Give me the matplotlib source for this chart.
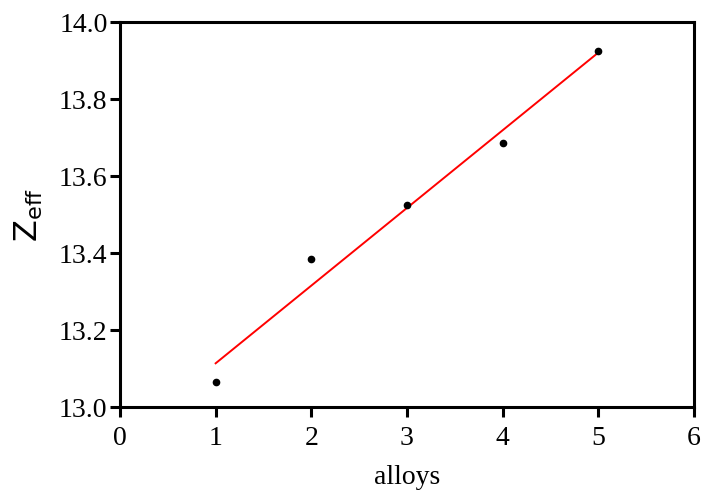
import matplotlib
matplotlib.use('Agg')
import matplotlib.pyplot as plt
import numpy as np

# effective atomic number per alloy
alloys = [1, 2, 3, 4, 5]
z_eff = [13.066, 13.385, 13.525, 13.685, 13.925]

plt.rcParams['font.family'] = 'Liberation Serif'

fig = plt.figure(figsize=(7.03, 4.93), dpi=100)
ax = fig.add_axes([0.1707, 0.1744, 0.8163, 0.7806])

# least squares line through the points
slope, intercept = np.polyfit(alloys, z_eff, 1)
fit_x = np.array([alloys[0], alloys[-1]])
ax.plot(fit_x, slope * fit_x + intercept, color='red', lw=1.4, zorder=2)
ax.plot(alloys, z_eff, 'o', color='black', markersize=4.5, zorder=3)

ax.set_xlim(0, 6)
ax.set_ylim(13.0, 14.0)
ax.set_xticks(range(0, 7))
ax.set_yticks([13.0, 13.2, 13.4, 13.6, 13.8, 14.0])
ax.set_yticklabels(['13.0', '13.2', '13.4', '13.6', '13.8', '14.0'])

for sp in ax.spines.values():
    sp.set_linewidth(2.2)
ax.tick_params(direction='out', length=7, width=2.2, labelsize=20)
ax.tick_params(axis='x', pad=7)
ax.tick_params(axis='y', pad=2)

ax.set_xlabel('alloys', fontsize=20, labelpad=10)
ax.set_ylabel(r'$\mathregular{Z_{eff}}$', fontsize=23, family='DejaVu Sans', labelpad=10)

plt.savefig('out.png', dpi=100)
